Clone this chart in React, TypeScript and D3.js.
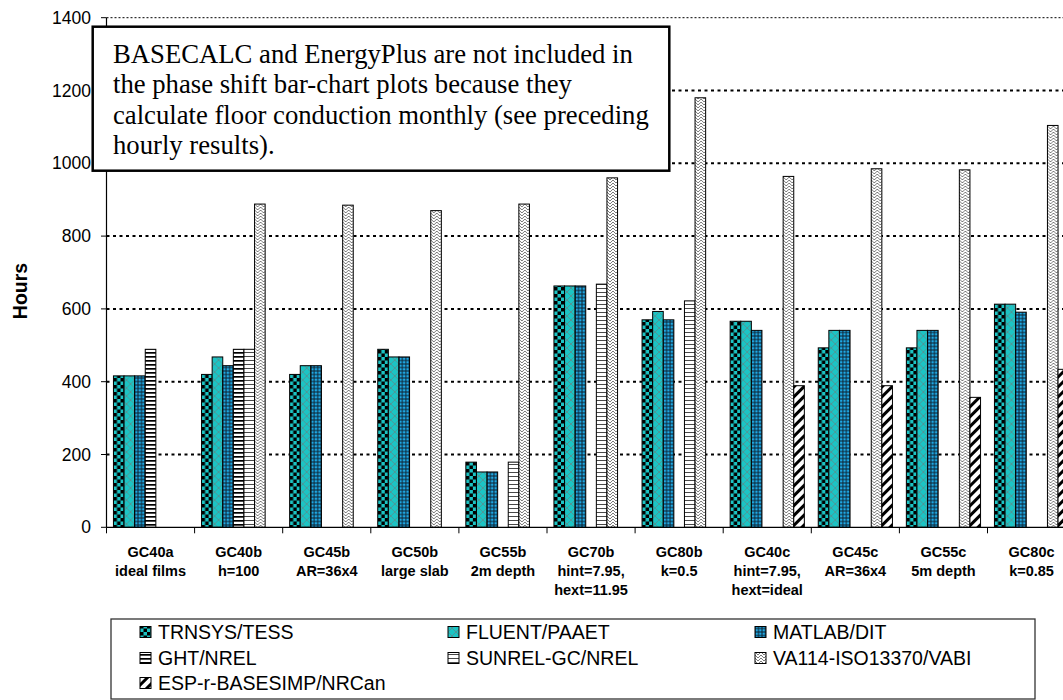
import * as d3 from 'd3'

const categoryNames = ['GC40a', 'GC40b', 'GC45b', 'GC50b', 'GC55b', 'GC70b', 'GC80b', 'GC40c', 'GC45c', 'GC55c', 'GC80c']
const categoryDetails = [
  ['ideal films'], ['h=100'], ['AR=36x4'], ['large slab'], ['2m depth'],
  ['hint=7.95,', 'hext=11.95'], ['k=0.5'], ['hint=7.95,', 'hext=ideal'],
  ['AR=36x4'], ['5m depth'], ['k=0.85'],
]

const seriesNames = ['TRNSYS/TESS', 'FLUENT/PAAET', 'MATLAB/DIT', 'GHT/NREL', 'SUNREL-GC/NREL', 'VA114-ISO13370/VABI', 'ESP-r-BASESIMP/NRCan']
const trnsys = [416, 420, 420, 489, 179, 663, 570, 566, 493, 493, 613]
const fluent = [416, 468, 444, 468, 152, 663, 593, 566, 541, 541, 613]
const matlab = [416, 444, 444, 468, 152, 663, 570, 541, 541, 541, 591]
const ght = [489, 489, null, null, null, null, null, null, null, null, null]
const sunrel = [null, 489, null, null, 179, 668, 622, null, null, null, null]
const va114 = [null, 888, 885, 870, 888, 960, 1180, 964, 985, 982, 1104]
const esp = [null, null, null, null, null, null, null, 389, 389, 357, 434]
const seriesValues: (number | null)[][] = [trnsys, fluent, matlab, ght, sunrel, va114, esp]
const patternIds = ['pTrn', 'pFlu', 'pMat', 'pGht', 'pSun', 'pVa', 'pEsp']

const yTicks = [0, 200, 400, 600, 800, 1000, 1200, 1400]
const noteLines = [
  'BASECALC and EnergyPlus are not included in',
  'the phase shift bar-chart plots because they',
  'calculate floor conduction monthly (see preceding',
  'hourly results).',
]

const TEAL = '#1cc4c4'
const BLUE = '#1fa8e4'
const SANS = '"Liberation Sans", Arial, sans-serif'

export default function App() {
  const width = 1063
  const height = 700

  const x0 = d3.scaleBand().domain(categoryNames).range([106.5, 1075.6]).padding(0)
  const x1 = d3.scaleBand().domain(seriesNames).range([0, x0.bandwidth()]).paddingInner(0).paddingOuter(0.656)
  const y = d3.scaleLinear().domain([0, 1400]).range([527.3, 17.7])

  const legendRows = [[0, 1, 2], [3, 4, 5], [6]]
  const legendCols = [140, 448, 755]
  const legendRowY = [632, 658, 683]

  return (
    <svg width={width} height={height} style={{ display: 'block', position: 'absolute', left: 0, top: 0 }} fontFamily={SANS}>
      <defs>
        <pattern id="pTrn" width="7" height="7" patternUnits="userSpaceOnUse">
          <rect width="7" height="7" fill={TEAL} />
          <rect width="3.5" height="3.5" fill="#000" />
          <rect x="3.5" y="3.5" width="3.5" height="3.5" fill="#000" />
        </pattern>
        <pattern id="pFlu" width="8" height="8" patternUnits="userSpaceOnUse">
          <rect width="8" height="8" fill={TEAL} />
          <path d="M0,0L8,8M8,0L0,8" stroke="#5c8c8c" strokeWidth="0.8" />
        </pattern>
        <pattern id="pMat" width="3.5" height="3.5" patternUnits="userSpaceOnUse">
          <rect width="3.5" height="3.5" fill="#0d2433" />
          <rect x="0.5" y="0.5" width="2.5" height="2.5" fill={BLUE} />
        </pattern>
        <pattern id="pGht" width="4" height="4" patternUnits="userSpaceOnUse">
          <rect width="4" height="4" fill="#fff" />
          <rect width="4" height="1.7" fill="#000" />
        </pattern>
        <pattern id="pSun" width="4" height="4" patternUnits="userSpaceOnUse">
          <rect width="4" height="4" fill="#fff" />
          <rect width="4" height="0.9" fill="#333" />
        </pattern>
        <pattern id="pVa" width="6" height="6" patternUnits="userSpaceOnUse">
          <rect width="6" height="6" fill="#fff" />
          <path d="M0,0L3,3L6,0M0,3L3,6L6,3" stroke="#7a7a7a" strokeWidth="1" fill="none" />
        </pattern>
        <pattern id="pEsp" width="7" height="7" patternUnits="userSpaceOnUse" patternTransform="rotate(45)">
          <rect width="7" height="7" fill="#fff" />
          <rect width="3" height="7" fill="#000" />
        </pattern>
      </defs>

      {/* gridlines */}
      {yTicks.filter(t => t > 0).map(t => (
        <line key={t} x1={106.5} x2={width} y1={y(t)} y2={y(t)} stroke="#000"
          strokeWidth={t === 1400 ? 1 : 2} strokeDasharray={t === 1400 ? '2 2' : '3 3.5'} />
      ))}

      {/* bars */}
      {categoryNames.map((c, ci) => (
        <g key={c} transform={`translate(${x0(c)},0)`}>
          {seriesNames.map((s, si) => {
            const v = seriesValues[si][ci]
            if (v == null) return null
            return (
              <rect key={s} x={x1(s)} y={y(v)} width={x1.bandwidth()} height={y(0) - y(v)}
                fill={`url(#${patternIds[si]})`} stroke="#000" strokeWidth={1} />
            )
          })}
        </g>
      ))}

      {/* axes */}
      <line x1={106.5} x2={106.5} y1={y(1400)} y2={y(0)} stroke="#000" strokeWidth={1.2} />
      {yTicks.map(t => (
        <g key={t}>
          <line x1={101} x2={106.5} y1={y(t)} y2={y(t)} stroke="#000" />
          <text x={91} y={y(t) + 6} textAnchor="end" fontSize={17.5}>{t}</text>
        </g>
      ))}
      <line x1={106.5} x2={width} y1={y(0)} y2={y(0)} stroke="#000" strokeWidth={1.2} />
      {[...categoryNames.map(c => x0(c)!), x0.range()[1]].map((xv, i) => (
        <line key={i} x1={xv} x2={xv} y1={y(0)} y2={y(0) + 6} stroke="#000" />
      ))}
      {categoryNames.map((c, ci) => {
        const cx = x0(c)! + x0.bandwidth() / 2
        return (
          <text key={c} x={cx} textAnchor="middle" fontSize={14.5} fontWeight="bold">
            {[c, ...categoryDetails[ci]].map((line, li) => (
              <tspan key={li} x={cx} y={556.7 + li * 19.2}>{line}</tspan>
            ))}
          </text>
        )
      })}
      <text transform="translate(27,291) rotate(-90)" textAnchor="middle" fontSize={19.5} fontWeight="bold">Hours</text>

      {/* note box */}
      <rect x={92.7} y={26.7} width={576.6} height={144} fill="#fff" stroke="#000" strokeWidth={2.5} />
      <text fontFamily='"Liberation Serif", "Times New Roman", serif' fontSize={26.7}>
        {noteLines.map((l, i) => (
          <tspan key={i} x={113} y={62.5 + i * 30.5}>{l}</tspan>
        ))}
      </text>

      {/* legend */}
      <rect x={111} y={619} width={924} height={80} fill="#fff" stroke="#333" strokeWidth={1.3} />
      {legendRows.map((row, ri) => row.map((si, ci) => (
        <g key={si} transform={`translate(${legendCols[ci]},${legendRowY[ri]})`}>
          <rect x={0} y={-5.5} width={11} height={11} fill={`url(#${patternIds[si]})`} stroke="#000" strokeWidth={1} />
          <text x={18} y={7} fontSize={19.5}>{seriesNames[si]}</text>
        </g>
      )))}
    </svg>
  )
}
